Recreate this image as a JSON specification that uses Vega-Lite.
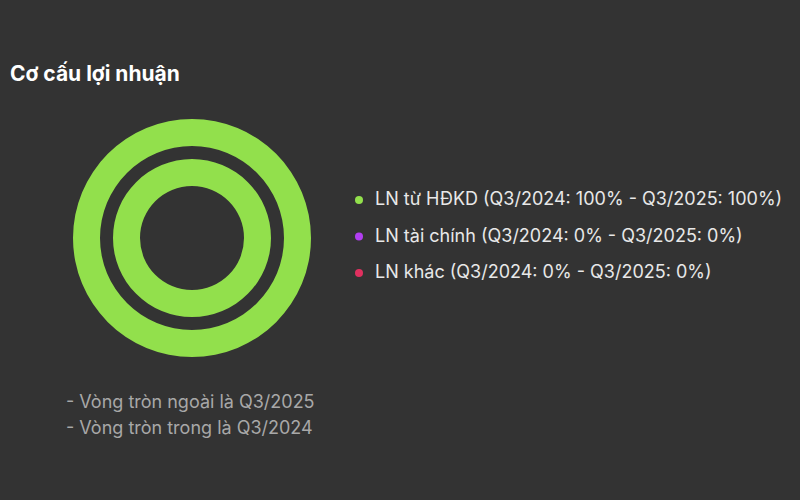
{
  "$schema": "https://vega.github.io/schema/vega-lite/v6.json",
  "width": 240,
  "height": 240,
  "autosize": {"type": "none"},
  "padding": {"left": 72, "top": 118, "right": 488, "bottom": 142},
  "background": "#333333",
  "title": {
    "text": "Cơ cấu lợi nhuận",
    "anchor": "start",
    "frame": "group",
    "dx": -62,
    "offset": 33,
    "font": "Inter",
    "fontSize": 21,
    "fontWeight": "bold",
    "color": "#ffffff"
  },
  "data": {
    "values": [
      {"ky": "Q3/2025", "loai": "LN từ HĐKD (Q3/2024: 100% - Q3/2025: 100%)", "tyle": 100, "ghichu": "- Vòng tròn ngoài là Q3/2025"},
      {"ky": "Q3/2025", "loai": "LN tài chính (Q3/2024: 0% - Q3/2025: 0%)", "tyle": 0, "ghichu": "- Vòng tròn ngoài là Q3/2025"},
      {"ky": "Q3/2025", "loai": "LN khác (Q3/2024: 0% - Q3/2025: 0%)", "tyle": 0, "ghichu": "- Vòng tròn ngoài là Q3/2025"},
      {"ky": "Q3/2024", "loai": "LN từ HĐKD (Q3/2024: 100% - Q3/2025: 100%)", "tyle": 100, "ghichu": "- Vòng tròn trong là Q3/2024"},
      {"ky": "Q3/2024", "loai": "LN tài chính (Q3/2024: 0% - Q3/2025: 0%)", "tyle": 0, "ghichu": "- Vòng tròn trong là Q3/2024"},
      {"ky": "Q3/2024", "loai": "LN khác (Q3/2024: 0% - Q3/2025: 0%)", "tyle": 0, "ghichu": "- Vòng tròn trong là Q3/2024"}
    ]
  },
  "encoding": {
    "theta": {"field": "tyle", "type": "quantitative", "stack": true},
    "color": {
      "field": "loai",
      "type": "nominal",
      "scale": {
        "domain": [
          "LN từ HĐKD (Q3/2024: 100% - Q3/2025: 100%)",
          "LN tài chính (Q3/2024: 0% - Q3/2025: 0%)",
          "LN khác (Q3/2024: 0% - Q3/2025: 0%)"
        ],
        "range": ["#92e04c", "#b23ef2", "#e0305f"]
      },
      "legend": {
        "title": null,
        "orient": "none",
        "legendX": 278,
        "legendY": 73,
        "padding": 0,
        "symbolType": "circle",
        "symbolSize": 64,
        "symbolStrokeWidth": 0,
        "labelOffset": 7,
        "labelFont": "Inter",
        "labelFontSize": 18,
        "labelColor": "#e8e8e8",
        "labelLimit": 600,
        "rowPadding": 18.5
      }
    },
    "opacity": {
      "field": "ghichu",
      "type": "ordinal",
      "scale": {
        "domain": ["- Vòng tròn ngoài là Q3/2025", "- Vòng tròn trong là Q3/2024"],
        "range": [1, 1]
      },
      "legend": {
        "title": null,
        "orient": "none",
        "legendX": -24,
        "legendY": 276,
        "padding": 0,
        "symbolSize": 0,
        "symbolOpacity": 0,
        "labelOffset": 0,
        "labelFont": "Inter",
        "labelFontSize": 18,
        "labelColor": "#a8a8a8",
        "labelLimit": 600,
        "rowPadding": 8
      }
    }
  },
  "layer": [
    {
      "transform": [{"filter": "datum.ky === 'Q3/2025'"}],
      "mark": {"type": "arc", "radius": 119, "radius2": 92}
    },
    {
      "transform": [{"filter": "datum.ky === 'Q3/2024'"}],
      "mark": {"type": "arc", "radius": 79, "radius2": 52}
    }
  ],
  "config": {"view": {"stroke": null}}
}
